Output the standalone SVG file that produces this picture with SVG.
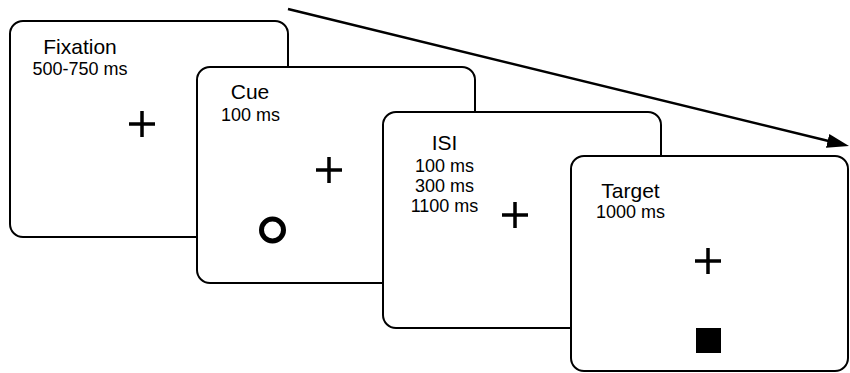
<svg xmlns="http://www.w3.org/2000/svg" width="850" height="373" viewBox="0 0 850 373">
<style>
.box{fill:#fff;stroke:#000;stroke-width:2}
.t{font-family:"Liberation Sans",Arial,sans-serif;font-size:21px;fill:#000;text-anchor:middle}
.s{font-family:"Liberation Sans",Arial,sans-serif;font-size:18px;fill:#000;text-anchor:middle}
.cross{stroke:#000;stroke-width:3.5;fill:none}
</style>
<defs>
<marker id="ah" markerUnits="userSpaceOnUse" markerWidth="24" markerHeight="16" refX="2" refY="7" orient="auto">
<path d="M0,0 L22,7 L0,14 Z" fill="#000"/>
</marker>
</defs>
<rect width="850" height="373" fill="#fff"/>
<g id="fixation">
<rect class="box" x="10" y="21" width="278" height="216" rx="13"/>
<text class="t" x="80" y="54">Fixation</text>
<text class="s" x="80" y="75">500-750 ms</text>
<path class="cross" d="M129,124 H155 M142,111 V137"/>
</g>
<g id="cue">
<rect class="box" x="197" y="67" width="278" height="216" rx="13"/>
<text class="t" x="250" y="99">Cue</text>
<text class="s" x="250.5" y="121">100 ms</text>
<path class="cross" d="M316,170 H342 M329,157 V183"/>
<circle cx="272.5" cy="230" r="11" fill="none" stroke="#000" stroke-width="5"/>
</g>
<g id="isi">
<rect class="box" x="383" y="112" width="278" height="216" rx="13"/>
<text class="t" x="444.5" y="150">ISI</text>
<text class="s" x="444.5" y="172">100 ms</text>
<text class="s" x="444.5" y="192">300 ms</text>
<text class="s" x="444.5" y="212">1100 ms</text>
<path class="cross" d="M502,215 H528 M515,202 V228"/>
</g>
<g id="target">
<rect class="box" x="571" y="156" width="277" height="215" rx="13"/>
<text class="t" x="630.5" y="198">Target</text>
<text class="s" x="630.5" y="218">1000 ms</text>
<path class="cross" d="M695,261 H721 M708,248 V274"/>
<rect x="696" y="328" width="25" height="25" fill="#000"/>
</g>
<g id="connectors">
<line x1="288" y1="9" x2="829.6" y2="141.3" stroke="#000" stroke-width="2.5" marker-end="url(#ah)"/>
</g>
</svg>
